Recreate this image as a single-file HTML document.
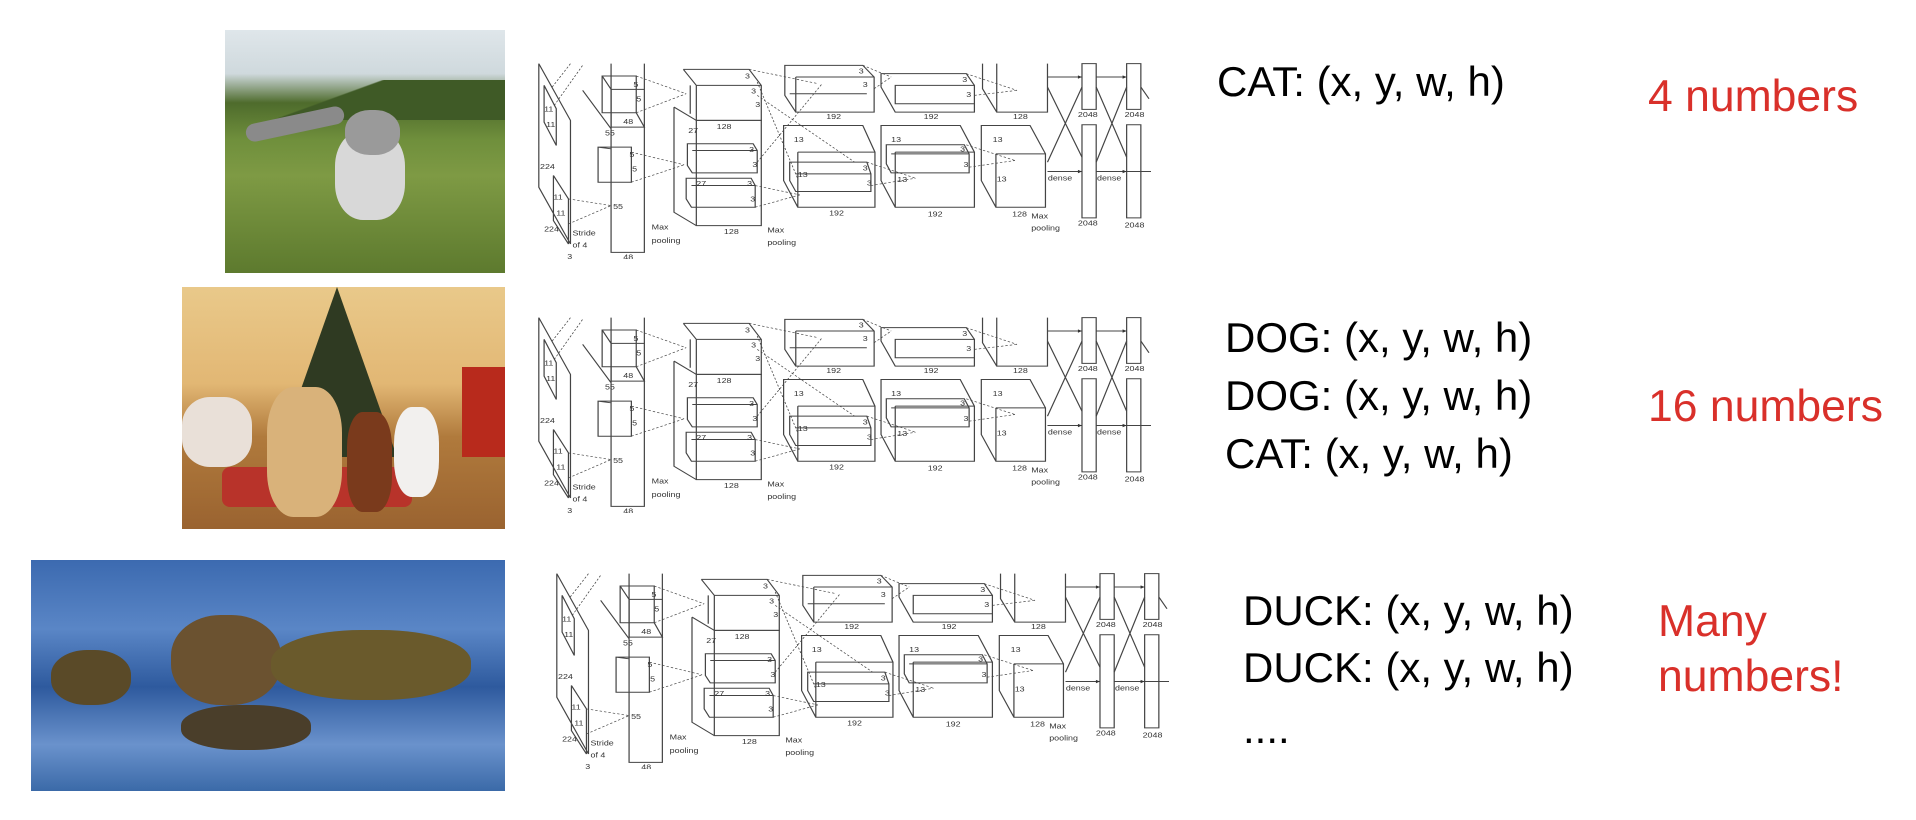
<!DOCTYPE html>
<html><head><meta charset="utf-8"><style>
body{margin:0;width:1916px;height:820px;background:#fff;position:relative;overflow:hidden;font-family:"Liberation Sans",sans-serif}
.ph{position:absolute;overflow:hidden}
.net{position:absolute;width:613px;height:197px}
.t{position:absolute;font-size:42px;color:#000;white-space:nowrap;line-height:1}
.r{position:absolute;font-size:44.5px;color:#d9302a;white-space:nowrap;line-height:1}
</style></head><body>

<div class="ph" style="left:225px;top:30px;width:280px;height:243px;background:linear-gradient(#dfe6ea 0%,#cfd9dd 18%,#4e6b2c 30%,#6f8f3c 45%,#7e9a44 60%,#5d7a2e 100%)">
<div style="position:absolute;left:0;top:50px;width:280px;height:40px;background:linear-gradient(160deg,transparent 40%,#3f5a26 41%)"></div>
<div style="position:absolute;left:110px;top:100px;width:70px;height:90px;border-radius:40%;background:#d8d8d8"></div>
<div style="position:absolute;left:120px;top:80px;width:55px;height:45px;border-radius:45%;background:#9a9a9a"></div>
<div style="position:absolute;left:20px;top:85px;width:100px;height:18px;border-radius:10px;background:#8a8a8a;transform:rotate(-12deg)"></div>
</div>

<div class="ph" style="left:182px;top:287px;width:323px;height:242px;background:linear-gradient(#e9c98a 0%,#e2b774 40%,#b07a3c 62%,#9a6330 100%)">
<div style="position:absolute;left:95px;top:0;width:120px;height:170px;background:#2f3a22;clip-path:polygon(50% 0,100% 100%,0 100%)"></div>
<div style="position:absolute;left:0;top:110px;width:70px;height:70px;border-radius:40%;background:#e9e0d8"></div>
<div style="position:absolute;left:280px;top:80px;width:43px;height:90px;background:#b82a1c"></div>
<div style="position:absolute;left:40px;top:180px;width:190px;height:40px;background:#b8332a;border-radius:8px"></div>
<div style="position:absolute;left:85px;top:100px;width:75px;height:130px;border-radius:35%;background:#d9b27a"></div>
<div style="position:absolute;left:165px;top:125px;width:45px;height:100px;border-radius:35%;background:#7a3a1c"></div>
<div style="position:absolute;left:212px;top:120px;width:45px;height:90px;border-radius:40%;background:#f2f0ee"></div>
</div>

<div class="ph" style="left:31px;top:560px;width:474px;height:231px;background:linear-gradient(#3c6ab0 0%,#5a86c6 30%,#2e5a9e 55%,#6a92cc 80%,#3b6aa8 100%)">
<div style="position:absolute;left:140px;top:55px;width:110px;height:90px;border-radius:45%;background:#6b5230"></div>
<div style="position:absolute;left:20px;top:90px;width:80px;height:55px;border-radius:45%;background:#5a4a28"></div>
<div style="position:absolute;left:240px;top:70px;width:200px;height:70px;border-radius:45%;background:#6a5a2c"></div>
<div style="position:absolute;left:150px;top:145px;width:130px;height:45px;border-radius:45%;background:#4a3e2a"></div>
</div>

<svg class="net" style="left:538px;top:62px" viewBox="20 30 1510 590" preserveAspectRatio="none" font-family="Liberation Sans" font-size="22" fill="none" stroke="#444" stroke-width="3">
<g><path d="M22 35 L100 205 L100 575 L22 405 Z M35 100 L65 170 L65 280 L35 210 Z M58 370 L95 440 L95 575 L58 505Z"/>
<path d="M130 115 L200 230 L200 600 L282 600 L282 35 M200 35 L200 230"/>
<path d="M178 72 L262 72 L262 182 L178 182 Z M178 72 L200 112 L282 112 M262 182 L282 225 L200 225 L200 112"/>
<path d="M168 285 L250 285 L250 390 L168 390 Z M168 285 L200 290"/>
<path d="M355 165 L410 205 L570 205 L570 520 L410 520 L410 205 M355 165 L355 480 L410 520"/>
<path d="M378 52 L540 52 L570 100 L570 205 L410 205 L410 100 L378 52 M410 100 L570 100 M395 100 L395 185"/>
<path d="M388 275 L550 275 L560 295 L560 362 L400 362 L388 340 Z M400 295 L560 295"/>
<path d="M385 378 L545 378 L555 400 L555 465 L398 465 L385 440 Z M398 400 L555 400"/>
<path d="M628 40 L820 40 L848 75 L848 180 L655 180 L628 130 Z M655 75 L848 75 M655 75 L655 180 M640 125 L830 125"/>
<path d="M625 220 L820 220 L850 300 L850 465 L660 465 L625 385 Z M660 300 L850 300 M660 300 L660 465"/>
<path d="M640 330 L830 330 L840 365 L840 418 L655 418 L640 385 Z M655 365 L840 365"/>
<path d="M865 65 L1075 65 L1095 100 L1095 180 L900 180 L865 105 Z M900 100 L1095 100 L1095 155 L900 155 Z"/>
<path d="M865 220 L1060 220 L1095 300 L1095 465 L900 465 L865 385 Z M900 300 L1095 300 M900 300 L900 465"/>
<path d="M878 278 L1070 278 L1082 305 L1082 362 L890 362 L878 335 Z M890 305 L1082 305"/>
<path d="M1115 35 L1115 110 L1150 180 L1275 180 L1275 35 M1150 35 L1150 180"/>
<path d="M1112 220 L1232 220 L1270 305 L1270 465 L1148 465 L1112 385 Z M1148 305 L1270 305 M1148 305 L1148 465"/>
<path d="M1360 35 L1395 35 L1395 172 L1360 172 Z M1360 218 L1395 218 L1395 497 L1360 497 Z M1470 35 L1505 35 L1505 172 L1470 172 Z M1470 218 L1505 218 L1505 497 L1470 497 Z"/>
<path d="M1275 75 L1360 75 M1395 75 L1470 75 M1275 358 L1360 358 M1395 358 L1530 358 M1275 330 L1360 105 M1275 105 L1360 315 M1395 330 L1470 105 M1395 105 L1470 315 M1505 105 L1525 140"/>
</g>
<g stroke-dasharray="6 5" stroke-width="2">
<path d="M55 105 L100 35 M60 160 L130 40 M95 440 L200 460 M95 515 L200 460 M262 72 L385 125 M262 182 L385 125 M250 300 L380 338 M250 390 L380 338 M540 52 L710 95 M560 130 L800 330 M560 330 L720 95 M555 400 L665 428 M555 465 L665 428 M560 90 L660 380 M820 40 L890 75 M848 110 L890 75 M1075 65 L1200 115 M1095 130 L1200 115 M1075 278 L1195 325 M1082 345 L1195 325 M830 330 L950 378 M840 400 L950 378"/>
</g>
<g fill="#333" stroke="none">
<path d="M1360 75 l-10 -5 v10z M1470 75 l-10 -5 v10z M1360 358 l-10 -5 v10z M1470 358 l-10 -5 v10z"/>
<text x="35" y="178">11</text><text x="40" y="225">11</text><text x="25" y="350">224</text><text x="58" y="442">11</text><text x="65" y="490">11</text><text x="35" y="538">224</text><text x="105" y="550">Stride</text><text x="105" y="585">of 4</text><text x="92" y="620">3</text>
<text x="255" y="105">5</text><text x="262" y="148">5</text><text x="230" y="215">48</text><text x="185" y="250">55</text><text x="245" y="315">5</text><text x="252" y="358">5</text><text x="205" y="470">55</text><text x="230" y="622">48</text>
<text x="300" y="532">Max</text><text x="300" y="572">pooling</text>
<text x="530" y="80">3</text><text x="545" y="125">3</text><text x="555" y="165">3</text><text x="460" y="230">128</text><text x="390" y="242">27</text><text x="540" y="300">3</text><text x="548" y="345">3</text><text x="410" y="402">27</text><text x="535" y="402">3</text><text x="543" y="448">3</text><text x="478" y="545">128</text>
<text x="585" y="540">Max</text><text x="585" y="578">pooling</text>
<text x="810" y="65">3</text><text x="820" y="105">3</text><text x="730" y="200">192</text><text x="650" y="270">13</text><text x="820" y="355">3</text><text x="660" y="375">13</text><text x="830" y="400">3</text><text x="737" y="490">192</text>
<text x="1065" y="90">3</text><text x="1075" y="135">3</text><text x="970" y="200">192</text><text x="890" y="270">13</text><text x="1060" y="298">3</text><text x="1068" y="345">3</text><text x="905" y="390">13</text><text x="980" y="492">192</text>
<text x="1190" y="200">128</text><text x="1140" y="270">13</text><text x="1150" y="388">13</text><text x="1188" y="492">128</text><text x="1235" y="498">Max</text><text x="1235" y="535">pooling</text>
<text x="1350" y="195">2048</text><text x="1465" y="195">2048</text><text x="1350" y="520">2048</text><text x="1465" y="525">2048</text><text x="1276" y="385">dense</text><text x="1397" y="385">dense</text>
</g></svg>

<svg class="net" style="left:538px;top:316px" viewBox="20 30 1510 590" preserveAspectRatio="none" font-family="Liberation Sans" font-size="22" fill="none" stroke="#444" stroke-width="3">
<g><path d="M22 35 L100 205 L100 575 L22 405 Z M35 100 L65 170 L65 280 L35 210 Z M58 370 L95 440 L95 575 L58 505Z"/>
<path d="M130 115 L200 230 L200 600 L282 600 L282 35 M200 35 L200 230"/>
<path d="M178 72 L262 72 L262 182 L178 182 Z M178 72 L200 112 L282 112 M262 182 L282 225 L200 225 L200 112"/>
<path d="M168 285 L250 285 L250 390 L168 390 Z M168 285 L200 290"/>
<path d="M355 165 L410 205 L570 205 L570 520 L410 520 L410 205 M355 165 L355 480 L410 520"/>
<path d="M378 52 L540 52 L570 100 L570 205 L410 205 L410 100 L378 52 M410 100 L570 100 M395 100 L395 185"/>
<path d="M388 275 L550 275 L560 295 L560 362 L400 362 L388 340 Z M400 295 L560 295"/>
<path d="M385 378 L545 378 L555 400 L555 465 L398 465 L385 440 Z M398 400 L555 400"/>
<path d="M628 40 L820 40 L848 75 L848 180 L655 180 L628 130 Z M655 75 L848 75 M655 75 L655 180 M640 125 L830 125"/>
<path d="M625 220 L820 220 L850 300 L850 465 L660 465 L625 385 Z M660 300 L850 300 M660 300 L660 465"/>
<path d="M640 330 L830 330 L840 365 L840 418 L655 418 L640 385 Z M655 365 L840 365"/>
<path d="M865 65 L1075 65 L1095 100 L1095 180 L900 180 L865 105 Z M900 100 L1095 100 L1095 155 L900 155 Z"/>
<path d="M865 220 L1060 220 L1095 300 L1095 465 L900 465 L865 385 Z M900 300 L1095 300 M900 300 L900 465"/>
<path d="M878 278 L1070 278 L1082 305 L1082 362 L890 362 L878 335 Z M890 305 L1082 305"/>
<path d="M1115 35 L1115 110 L1150 180 L1275 180 L1275 35 M1150 35 L1150 180"/>
<path d="M1112 220 L1232 220 L1270 305 L1270 465 L1148 465 L1112 385 Z M1148 305 L1270 305 M1148 305 L1148 465"/>
<path d="M1360 35 L1395 35 L1395 172 L1360 172 Z M1360 218 L1395 218 L1395 497 L1360 497 Z M1470 35 L1505 35 L1505 172 L1470 172 Z M1470 218 L1505 218 L1505 497 L1470 497 Z"/>
<path d="M1275 75 L1360 75 M1395 75 L1470 75 M1275 358 L1360 358 M1395 358 L1530 358 M1275 330 L1360 105 M1275 105 L1360 315 M1395 330 L1470 105 M1395 105 L1470 315 M1505 105 L1525 140"/>
</g>
<g stroke-dasharray="6 5" stroke-width="2">
<path d="M55 105 L100 35 M60 160 L130 40 M95 440 L200 460 M95 515 L200 460 M262 72 L385 125 M262 182 L385 125 M250 300 L380 338 M250 390 L380 338 M540 52 L710 95 M560 130 L800 330 M560 330 L720 95 M555 400 L665 428 M555 465 L665 428 M560 90 L660 380 M820 40 L890 75 M848 110 L890 75 M1075 65 L1200 115 M1095 130 L1200 115 M1075 278 L1195 325 M1082 345 L1195 325 M830 330 L950 378 M840 400 L950 378"/>
</g>
<g fill="#333" stroke="none">
<path d="M1360 75 l-10 -5 v10z M1470 75 l-10 -5 v10z M1360 358 l-10 -5 v10z M1470 358 l-10 -5 v10z"/>
<text x="35" y="178">11</text><text x="40" y="225">11</text><text x="25" y="350">224</text><text x="58" y="442">11</text><text x="65" y="490">11</text><text x="35" y="538">224</text><text x="105" y="550">Stride</text><text x="105" y="585">of 4</text><text x="92" y="620">3</text>
<text x="255" y="105">5</text><text x="262" y="148">5</text><text x="230" y="215">48</text><text x="185" y="250">55</text><text x="245" y="315">5</text><text x="252" y="358">5</text><text x="205" y="470">55</text><text x="230" y="622">48</text>
<text x="300" y="532">Max</text><text x="300" y="572">pooling</text>
<text x="530" y="80">3</text><text x="545" y="125">3</text><text x="555" y="165">3</text><text x="460" y="230">128</text><text x="390" y="242">27</text><text x="540" y="300">3</text><text x="548" y="345">3</text><text x="410" y="402">27</text><text x="535" y="402">3</text><text x="543" y="448">3</text><text x="478" y="545">128</text>
<text x="585" y="540">Max</text><text x="585" y="578">pooling</text>
<text x="810" y="65">3</text><text x="820" y="105">3</text><text x="730" y="200">192</text><text x="650" y="270">13</text><text x="820" y="355">3</text><text x="660" y="375">13</text><text x="830" y="400">3</text><text x="737" y="490">192</text>
<text x="1065" y="90">3</text><text x="1075" y="135">3</text><text x="970" y="200">192</text><text x="890" y="270">13</text><text x="1060" y="298">3</text><text x="1068" y="345">3</text><text x="905" y="390">13</text><text x="980" y="492">192</text>
<text x="1190" y="200">128</text><text x="1140" y="270">13</text><text x="1150" y="388">13</text><text x="1188" y="492">128</text><text x="1235" y="498">Max</text><text x="1235" y="535">pooling</text>
<text x="1350" y="195">2048</text><text x="1465" y="195">2048</text><text x="1350" y="520">2048</text><text x="1465" y="525">2048</text><text x="1276" y="385">dense</text><text x="1397" y="385">dense</text>
</g></svg>

<svg class="net" style="left:556px;top:572px" viewBox="20 30 1510 590" preserveAspectRatio="none" font-family="Liberation Sans" font-size="22" fill="none" stroke="#444" stroke-width="3">
<g><path d="M22 35 L100 205 L100 575 L22 405 Z M35 100 L65 170 L65 280 L35 210 Z M58 370 L95 440 L95 575 L58 505Z"/>
<path d="M130 115 L200 230 L200 600 L282 600 L282 35 M200 35 L200 230"/>
<path d="M178 72 L262 72 L262 182 L178 182 Z M178 72 L200 112 L282 112 M262 182 L282 225 L200 225 L200 112"/>
<path d="M168 285 L250 285 L250 390 L168 390 Z M168 285 L200 290"/>
<path d="M355 165 L410 205 L570 205 L570 520 L410 520 L410 205 M355 165 L355 480 L410 520"/>
<path d="M378 52 L540 52 L570 100 L570 205 L410 205 L410 100 L378 52 M410 100 L570 100 M395 100 L395 185"/>
<path d="M388 275 L550 275 L560 295 L560 362 L400 362 L388 340 Z M400 295 L560 295"/>
<path d="M385 378 L545 378 L555 400 L555 465 L398 465 L385 440 Z M398 400 L555 400"/>
<path d="M628 40 L820 40 L848 75 L848 180 L655 180 L628 130 Z M655 75 L848 75 M655 75 L655 180 M640 125 L830 125"/>
<path d="M625 220 L820 220 L850 300 L850 465 L660 465 L625 385 Z M660 300 L850 300 M660 300 L660 465"/>
<path d="M640 330 L830 330 L840 365 L840 418 L655 418 L640 385 Z M655 365 L840 365"/>
<path d="M865 65 L1075 65 L1095 100 L1095 180 L900 180 L865 105 Z M900 100 L1095 100 L1095 155 L900 155 Z"/>
<path d="M865 220 L1060 220 L1095 300 L1095 465 L900 465 L865 385 Z M900 300 L1095 300 M900 300 L900 465"/>
<path d="M878 278 L1070 278 L1082 305 L1082 362 L890 362 L878 335 Z M890 305 L1082 305"/>
<path d="M1115 35 L1115 110 L1150 180 L1275 180 L1275 35 M1150 35 L1150 180"/>
<path d="M1112 220 L1232 220 L1270 305 L1270 465 L1148 465 L1112 385 Z M1148 305 L1270 305 M1148 305 L1148 465"/>
<path d="M1360 35 L1395 35 L1395 172 L1360 172 Z M1360 218 L1395 218 L1395 497 L1360 497 Z M1470 35 L1505 35 L1505 172 L1470 172 Z M1470 218 L1505 218 L1505 497 L1470 497 Z"/>
<path d="M1275 75 L1360 75 M1395 75 L1470 75 M1275 358 L1360 358 M1395 358 L1530 358 M1275 330 L1360 105 M1275 105 L1360 315 M1395 330 L1470 105 M1395 105 L1470 315 M1505 105 L1525 140"/>
</g>
<g stroke-dasharray="6 5" stroke-width="2">
<path d="M55 105 L100 35 M60 160 L130 40 M95 440 L200 460 M95 515 L200 460 M262 72 L385 125 M262 182 L385 125 M250 300 L380 338 M250 390 L380 338 M540 52 L710 95 M560 130 L800 330 M560 330 L720 95 M555 400 L665 428 M555 465 L665 428 M560 90 L660 380 M820 40 L890 75 M848 110 L890 75 M1075 65 L1200 115 M1095 130 L1200 115 M1075 278 L1195 325 M1082 345 L1195 325 M830 330 L950 378 M840 400 L950 378"/>
</g>
<g fill="#333" stroke="none">
<path d="M1360 75 l-10 -5 v10z M1470 75 l-10 -5 v10z M1360 358 l-10 -5 v10z M1470 358 l-10 -5 v10z"/>
<text x="35" y="178">11</text><text x="40" y="225">11</text><text x="25" y="350">224</text><text x="58" y="442">11</text><text x="65" y="490">11</text><text x="35" y="538">224</text><text x="105" y="550">Stride</text><text x="105" y="585">of 4</text><text x="92" y="620">3</text>
<text x="255" y="105">5</text><text x="262" y="148">5</text><text x="230" y="215">48</text><text x="185" y="250">55</text><text x="245" y="315">5</text><text x="252" y="358">5</text><text x="205" y="470">55</text><text x="230" y="622">48</text>
<text x="300" y="532">Max</text><text x="300" y="572">pooling</text>
<text x="530" y="80">3</text><text x="545" y="125">3</text><text x="555" y="165">3</text><text x="460" y="230">128</text><text x="390" y="242">27</text><text x="540" y="300">3</text><text x="548" y="345">3</text><text x="410" y="402">27</text><text x="535" y="402">3</text><text x="543" y="448">3</text><text x="478" y="545">128</text>
<text x="585" y="540">Max</text><text x="585" y="578">pooling</text>
<text x="810" y="65">3</text><text x="820" y="105">3</text><text x="730" y="200">192</text><text x="650" y="270">13</text><text x="820" y="355">3</text><text x="660" y="375">13</text><text x="830" y="400">3</text><text x="737" y="490">192</text>
<text x="1065" y="90">3</text><text x="1075" y="135">3</text><text x="970" y="200">192</text><text x="890" y="270">13</text><text x="1060" y="298">3</text><text x="1068" y="345">3</text><text x="905" y="390">13</text><text x="980" y="492">192</text>
<text x="1190" y="200">128</text><text x="1140" y="270">13</text><text x="1150" y="388">13</text><text x="1188" y="492">128</text><text x="1235" y="498">Max</text><text x="1235" y="535">pooling</text>
<text x="1350" y="195">2048</text><text x="1465" y="195">2048</text><text x="1350" y="520">2048</text><text x="1465" y="525">2048</text><text x="1276" y="385">dense</text><text x="1397" y="385">dense</text>
</g></svg>

<div class="t" style="left:1217px;top:61px">CAT: (x, y, w, h)</div>
<div class="r" style="left:1648px;top:75px">4 numbers</div>

<div class="t" style="left:1225px;top:317px">DOG: (x, y, w, h)</div>
<div class="t" style="left:1225px;top:375px">DOG: (x, y, w, h)</div>
<div class="t" style="left:1225px;top:433px">CAT: (x, y, w, h)</div>
<div class="r" style="left:1648px;top:385px">16 numbers</div>

<div class="t" style="left:1243px;top:590px">DUCK: (x, y, w, h)</div>
<div class="t" style="left:1243px;top:647px">DUCK: (x, y, w, h)</div>
<div class="t" style="left:1243px;top:708px">....</div>
<div class="r" style="left:1658px;top:600px">Many</div>
<div class="r" style="left:1658px;top:655px">numbers!</div>
</body></html>
